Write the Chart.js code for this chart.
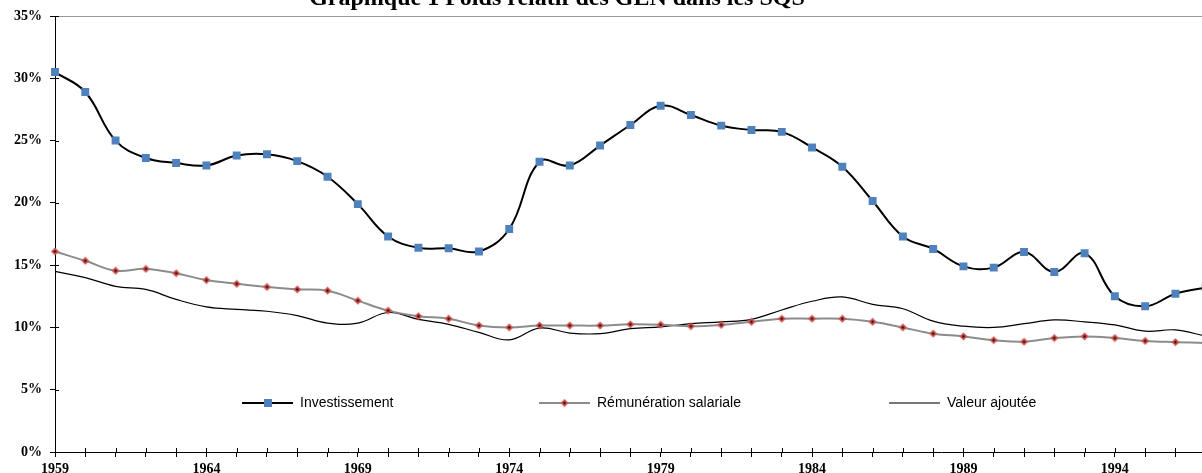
<!DOCTYPE html>
<html>
<head>
<meta charset="utf-8">
<script src="https://cdn.jsdelivr.net/npm/chart.js@4.4.0/dist/chart.umd.min.js"></script>
<style>
    html, body { margin: 0; padding: 0; background: #fff; }
    #wrap { position: relative; width: 1202px; height: 473px; overflow: hidden; }
    #chart { position: absolute; left: 0; top: -20px; }
</style>
</head>
<body>
<div id="wrap"><canvas id="chart" width="1242" height="513"></canvas></div>
<script>
// Years on the axis (the last one is beyond the visible window)
const years = [];
for (let y = 1959; y <= 1998; y++) years.push(String(y));

const investissement = [30.5, 28.9, 25.0, 23.6, 23.2, 23.0, 23.8, 23.9, 23.35, 22.1,
    19.9, 17.3, 16.4, 16.35, 16.1, 17.9, 23.3, 23.0, 24.6, 26.25,
    27.8, 27.05, 26.2, 25.85, 25.7, 24.45, 22.9, 20.15, 17.3, 16.3,
    14.9, 14.8, 16.05, 14.45, 15.95, 12.5, 11.7, 12.7, 13.2];

const remuneration = [16.1, 15.35, 14.55, 14.7, 14.35, 13.8, 13.5, 13.25, 13.05, 12.95,
    12.15, 11.35, 10.9, 10.7, 10.15, 10.0, 10.15, 10.15, 10.15, 10.25,
    10.22, 10.1, 10.2, 10.45, 10.7, 10.7, 10.7, 10.45, 10.0, 9.5,
    9.28, 8.98, 8.85, 9.15, 9.28, 9.15, 8.92, 8.82, 8.75];

const valeurAjoutee = [14.5, 14.0, 13.3, 13.05, 12.25, 11.65, 11.45, 11.3, 10.95, 10.35,
    10.35, 11.2, 10.65, 10.25, 9.6, 9.0, 9.95, 9.55, 9.5, 9.9,
    10.05, 10.3, 10.45, 10.65, 11.4, 12.1, 12.45, 11.85, 11.5, 10.5,
    10.1, 10.0, 10.3, 10.6, 10.45, 10.2, 9.7, 9.8, 9.3];

const yTicks = [0, 5, 10, 15, 20, 25, 30, 35];

const seriesNames = ['Investissement', 'Rémunération salariale', 'Valeur ajoutée'];

// red diamond with a small black dot in the middle
function diamondMarker() {
    const c = document.createElement('canvas');
    c.width = 9; c.height = 9;
    const g = c.getContext('2d');
    g.fillStyle = '#D0504D';
    g.beginPath();
    g.moveTo(4.5, 0.5); g.lineTo(8.5, 4.5); g.lineTo(4.5, 8.5); g.lineTo(0.5, 4.5);
    g.closePath();
    g.fill();
    g.fillStyle = '#000';
    g.fillRect(3.5, 3.5, 2, 2);
    return c;
}
const redMarker = diamondMarker();

// title, inside ticks and the legend drawn inside the plot
const extras = {
    id: 'extras',
    afterDraw(chart) {
        const ctx = chart.ctx;
        const area = chart.chartArea;
        const xs = chart.scales.x, ys = chart.scales.y;
        ctx.save();

        ctx.fillStyle = '#000';
        ctx.font = 'bold 24px "Liberation Serif", "Times New Roman", serif';
        ctx.textAlign = 'center';
        ctx.textBaseline = 'alphabetic';
        ctx.fillText('Graphique 1 Poids relatif des GEN dans les SQS', 557, 25);

        // tick marks crossing the axes
        ctx.strokeStyle = '#000';
        ctx.lineWidth = 1;
        ctx.beginPath();
        xs.ticks.forEach((t, i) => {
            const px = Math.round(xs.getPixelForTick(i)) + 0.5;
            ctx.moveTo(px, area.bottom);
            ctx.lineTo(px, area.bottom - 4);
        });
        yTicks.forEach(v => {
            const py = Math.round(ys.getPixelForValue(v)) + 0.5;
            ctx.moveTo(area.left, py);
            ctx.lineTo(area.left + 4, py);
        });
        ctx.stroke();

        // legend
        const ly = area.top + 387;
        const items = [
            {x: 242, ds: 0},
            {x: 539, ds: 1},
            {x: 889, ds: 2}
        ];
        ctx.font = '14px "Liberation Sans", Arial, sans-serif';
        ctx.textAlign = 'left';
        ctx.textBaseline = 'middle';
        items.forEach(it => {
            const ds = chart.data.datasets[it.ds];
            ctx.strokeStyle = it.ds === 2 ? '#777' : ds.borderColor;
            ctx.lineWidth = 2;
            ctx.beginPath();
            ctx.moveTo(it.x, ly);
            ctx.lineTo(it.x + 51, ly);
            ctx.stroke();
            if (it.ds === 0) {
                ctx.fillStyle = ds.pointBackgroundColor;
                ctx.fillRect(it.x + 22, ly - 4, 8, 8);
            } else if (it.ds === 1) {
                ctx.drawImage(redMarker, it.x + 21, ly - 4.5);
            }
            ctx.fillStyle = '#000';
            ctx.fillText(ds.label, it.x + 58, ly);
        });
        ctx.restore();
    }
};

new Chart(document.getElementById('chart'), {
    type: 'line',
    data: {
        labels: years,
        datasets: [
            {
                label: seriesNames[0],
                data: investissement,
                borderColor: '#000',
                borderWidth: 2,
                tension: 0.4,
                pointStyle: 'rect',
                pointRadius: 5.6,
                pointBackgroundColor: '#4F81BD',
                pointBorderColor: '#4F81BD',
                pointBorderWidth: 0
            },
            {
                label: seriesNames[1],
                data: remuneration,
                borderColor: '#8C8C8C',
                borderWidth: 2,
                tension: 0.4,
                pointStyle: redMarker,
                pointRadius: 4
            },
            {
                label: seriesNames[2],
                data: valeurAjoutee,
                borderColor: '#000',
                borderWidth: 1.2,
                tension: 0.4,
                pointRadius: 0
            }
        ]
    },
    options: {
        responsive: false,
        animation: false,
        devicePixelRatio: 1,
        layout: { padding: { top: 36, left: 0, right: 0, bottom: 0 } },
        plugins: {
            legend: { display: false },
            title: { display: false },
            tooltip: { enabled: false }
        },
        scales: {
            x: {
                type: 'category',
                offset: false,
                afterFit: s => { s.height = 41; },
                border: { display: true, color: '#000', width: 1 },
                grid: { drawOnChartArea: false, tickLength: 5, color: '#000' },
                ticks: {
                    autoSkip: false,
                    maxRotation: 0,
                    padding: 4,
                    color: '#000',
                    font: { family: '"Liberation Serif", "Times New Roman", serif', size: 14, weight: 'bold' },
                    callback: function (v, i) { return i % 5 === 0 ? this.getLabelForValue(v) : ''; }
                }
            },
            y: {
                min: 0,
                max: 35,
                afterFit: s => { s.width = 55; },
                afterBuildTicks: s => { s.ticks = yTicks.map(v => ({ value: v })); },
                border: { display: true, color: '#000', width: 1 },
                grid: {
                    tickLength: 5,
                    tickColor: '#000',
                    color: c => (c.tick && c.tick.value === 35 ? '#999' : 'rgba(0,0,0,0)')
                },
                ticks: {
                    padding: 8,
                    color: '#000',
                    font: { family: '"Liberation Serif", "Times New Roman", serif', size: 14, weight: 'bold' },
                    callback: v => v + '%'
                }
            }
        }
    },
    plugins: [extras]
});
</script>
</body>
</html>
